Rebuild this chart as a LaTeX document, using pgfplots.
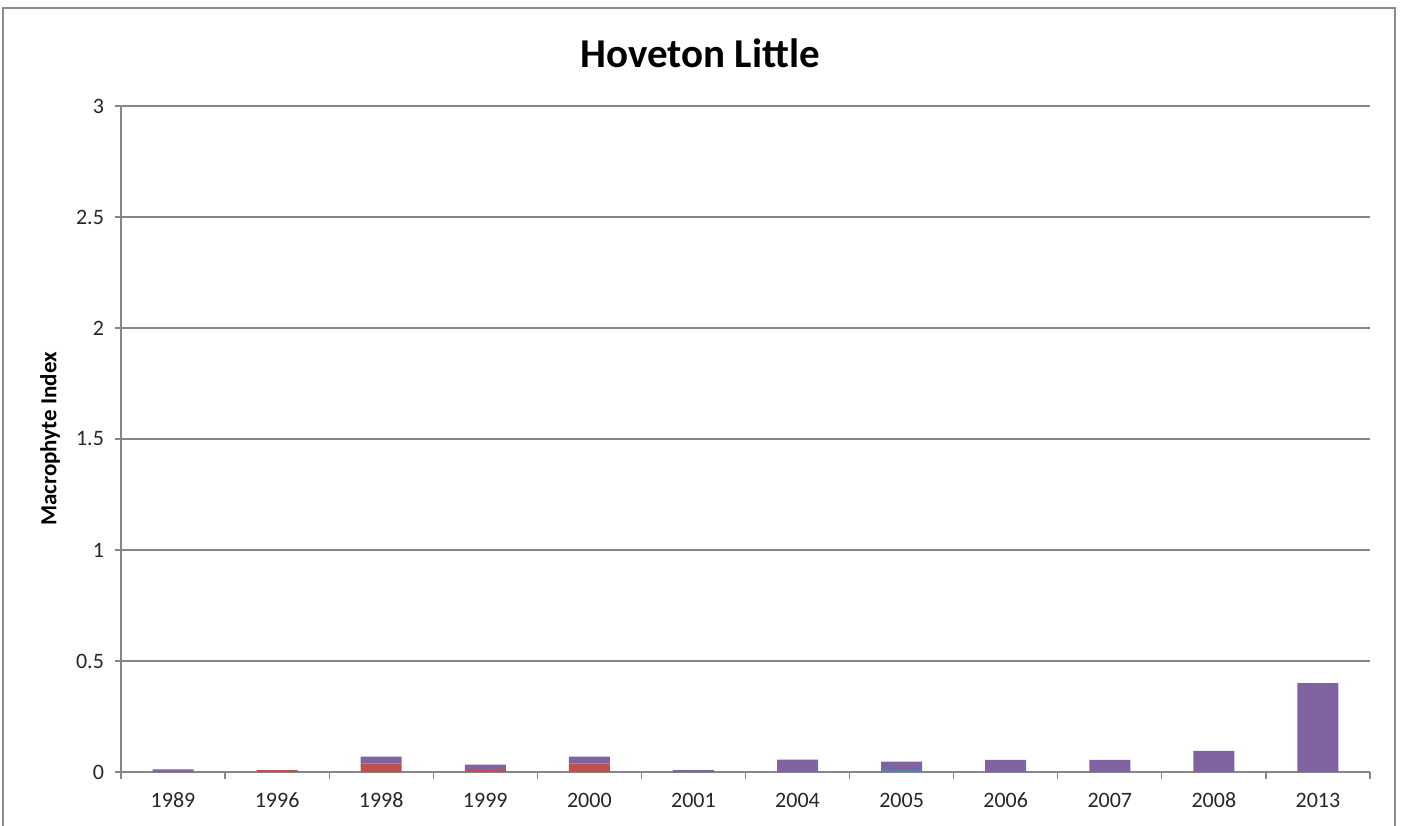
\documentclass[border=0pt]{standalone}
\usepackage{pgfplots}
\pgfplotsset{compat=1.18}
\usepackage{fontspec}
\setmainfont{Carlito}

\definecolor{sBlue}{HTML}{4F81BD}
\definecolor{sRed}{HTML}{C0504D}
\definecolor{sPurple}{HTML}{8064A2}
\definecolor{gridgray}{HTML}{868686}
\definecolor{framegray}{HTML}{8C8C8C}
\definecolor{labgray}{HTML}{262626}

\begin{document}
\begin{tikzpicture}[x=1pt,y=1pt]
  % page extent and outer chart frame
  \useasboundingbox (0,0) rectangle (701,412.5);
  \draw[framegray, line width=1pt] (1.5,-5) -- (1.5,408.5) -- (697.5,408.5) -- (697.5,-5);
  \node[font=\fontsize{20.5}{24}\selectfont\bfseries] at (350,386) {Hoveton Little};

  \begin{axis}[
    at={(60.5pt,26.5pt)}, anchor=south west,
    scale only axis, width=624.5pt, height=333pt,
    ybar stacked, bar width=20.5pt,
    xmin=-0.5, xmax=11.5, ymin=0, ymax=3,
    xtick={0,...,11},
    xticklabels={1989,1996,1998,1999,2000,2001,2004,2005,2006,2007,2008,2013},
    minor xtick={-0.5,0.5,...,11.5},
    ytick={0,0.5,...,3},
    axis x line*=bottom, axis y line*=left,
    axis line style={gridgray, line width=0.6pt},
    x axis line style={-}, y axis line style={-},
    ymajorgrids, major grid style={gridgray, line width=0.6pt},
    major x tick style={draw=none},
    minor x tick style={gridgray, line width=0.6pt},
    major y tick style={gridgray, line width=0.6pt},
    tick align=outside, major tick length=3pt, minor tick length=3.5pt,
    tick label style={font=\fontsize{11}{13}\selectfont, text=labgray},
    /pgf/number format/assume math mode=true,
    xticklabel style={yshift=-3pt, text height=8pt, text depth=2pt},
    yticklabel style={xshift=-2pt},
    ylabel={Macrophyte Index},
    ylabel style={at={(axis description cs:-0.0568,0.5)}, anchor=center,
      font=\fontsize{11.5}{13}\selectfont\bfseries},
    clip=false,
  ]
    \addplot[fill=sBlue, draw=none] coordinates {
      (0,0) (1,0) (2,0) (3,0) (4,0) (5,0) (6,0) (7,0.009) (8,0) (9,0) (10,0) (11,0)};
    \addplot[fill=sRed, draw=none] coordinates {
      (0,0) (1,0.008) (2,0.038) (3,0.009) (4,0.038) (5,0) (6,0) (7,0) (8,0) (9,0) (10,0) (11,0)};
    \addplot[fill=sPurple, draw=none] coordinates {
      (0,0.012) (1,0) (2,0.031) (3,0.024) (4,0.031) (5,0.008) (6,0.056) (7,0.038) (8,0.055) (9,0.055) (10,0.095) (11,0.40)};
  \end{axis}
\end{tikzpicture}
\end{document}
